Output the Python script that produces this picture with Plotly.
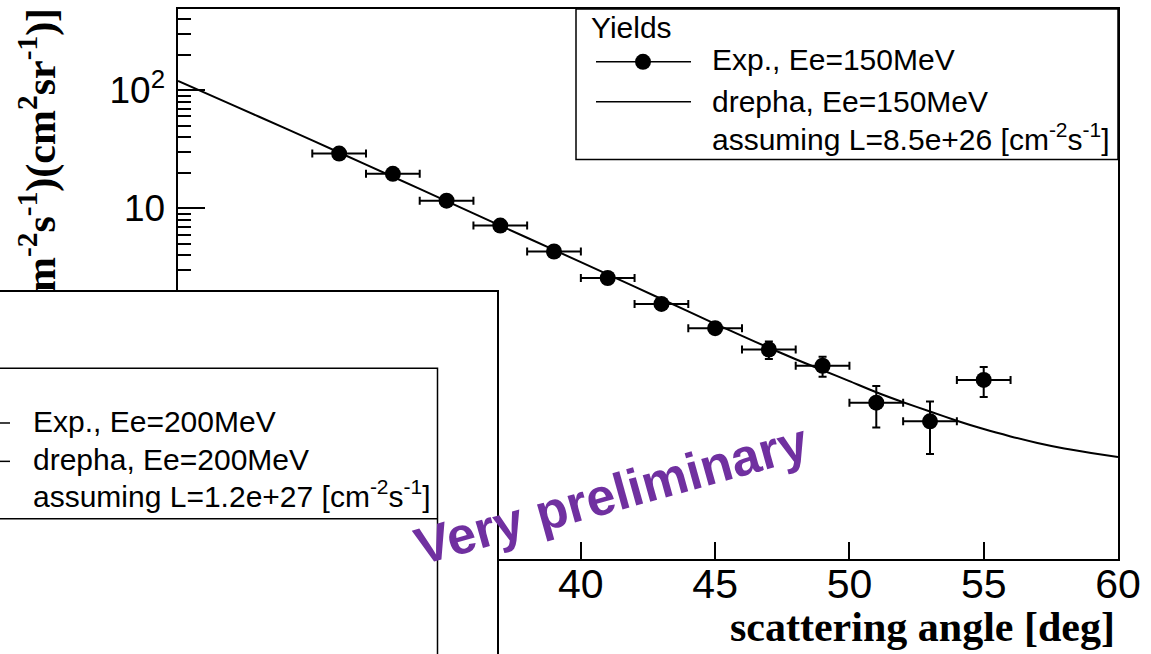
import plotly.graph_objects as go

# ---------------- data ----------------
angle_exp = [31, 33, 35, 37, 39, 41, 43, 45, 47, 49, 51, 53, 55]
angle_halfwidth = [1, 1, 1, 1, 1, 1, 1, 1, 1, 1, 1, 1, 1]
yield_exp = [29.1, 19.6, 11.6, 7.14, 4.31, 2.57, 1.55, 0.966, 0.637, 0.464, 0.226, 0.157, 0.352]
yield_err = [0.45, 0.35, 0.25, 0.2, 0.15, 0.12, 0.1, 0.1, 0.108, 0.09, 0.087, 0.074, 0.10]

angle_sim = [25, 27, 29, 31, 33, 35, 37, 39, 41, 43, 45, 46, 47, 48, 49, 50,
             51, 52, 53, 54, 55, 56, 57, 58, 59, 60]
yield_sim = [120, 75.5, 47.5, 29.7, 18.5, 11.5, 7.14, 4.44, 2.76, 1.706, 1.05, 0.831,
             0.659, 0.527, 0.425, 0.344, 0.277, 0.228, 0.190, 0.159, 0.135, 0.117,
             0.103, 0.0925, 0.0848, 0.0784]

legend_main_title = "Yields"
legend_main_items = ["Exp., Ee=150MeV", "drepha, Ee=150MeV",
                     "assuming L=8.5e+26 [cm<sup>-2</sup>s<sup>-1</sup>]"]
legend_second_items = ["Exp., Ee=200MeV", "drepha, Ee=200MeV",
                       "assuming L=1.2e+27 [cm<sup>-2</sup>s<sup>-1</sup>]"]
x_title = "scattering angle [deg]"
y_title_visible = "m<sup>-2</sup>s<sup>-1</sup>)(cm<sup>2</sup>sr<sup>-1</sup>)]"
watermark = "Very preliminary"
# tick labels that sit under the overlapping panel (hidden in the reference)
x_hidden_labels = {"25": "", "30": "", "35": ""}
y_hidden_labels = {"1": "", "10<sup>\u22121</sup>": "", "10<sup>\u22122</sup>": ""}

# ---------------- geometry helpers ----------------
W, H = 1151, 654
L, R, T, B = 178, 33, 7, 95
PW, PH = W - L - R, H - T - B


def px(x):
    return (x - L) / PW


def py(y):
    return (H - B - y) / PH


SANS = "Liberation Sans, Arial, sans-serif"
SERIF = "Liberation Serif, Times New Roman, serif"

fig = go.Figure()

fig.add_trace(go.Scatter(
    x=angle_sim, y=yield_sim, mode="lines",
    line=dict(color="black", width=2, shape="spline", smoothing=0.6),
    showlegend=False, hoverinfo="skip"))

fig.add_trace(go.Scatter(
    x=angle_exp, y=yield_exp, mode="markers",
    marker=dict(color="black", size=16),
    error_x=dict(type="data", array=angle_halfwidth, color="black", thickness=2, width=4),
    error_y=dict(type="data", array=yield_err, color="black", thickness=2, width=4),
    showlegend=False))

shapes = []
# main legend box
shapes.append(dict(type="rect", xref="paper", yref="paper", layer="above",
                   x0=px(576), x1=px(1118), y0=py(158), y1=py(7),
                   fillcolor="white", line=dict(color="black", width=1.5)))
shapes.append(dict(type="line", xref="paper", yref="paper", layer="above",
                   x0=px(596), x1=px(691), y0=py(60), y1=py(60),
                   line=dict(color="black", width=1.5)))
shapes.append(dict(type="circle", xref="paper", yref="paper", layer="above",
                   x0=px(635), x1=px(651), y0=py(68), y1=py(52),
                   fillcolor="black", line=dict(color="black", width=0)))
shapes.append(dict(type="line", xref="paper", yref="paper", layer="above",
                   x0=px(596), x1=px(691), y0=py(100), y1=py(100),
                   line=dict(color="black", width=1.5)))
# overlapping second panel (lower left)
shapes.append(dict(type="rect", xref="paper", yref="paper", layer="above",
                   x0=px(-5), x1=px(498), y0=py(665), y1=py(290),
                   fillcolor="white", line=dict(color="black", width=2)))
shapes.append(dict(type="rect", xref="paper", yref="paper", layer="above",
                   x0=px(-5), x1=px(437.5), y0=py(665), y1=py(367.5),
                   fillcolor="white", line=dict(color="black", width=1.5)))
shapes.append(dict(type="line", xref="paper", yref="paper", layer="above",
                   x0=px(-5), x1=px(437.5), y0=py(518.5), y1=py(518.5),
                   line=dict(color="black", width=1.5)))
for yy in (422.5, 461):
    shapes.append(dict(type="line", xref="paper", yref="paper", layer="above",
                       x0=px(-5), x1=px(10), y0=py(yy), y1=py(yy),
                       line=dict(color="black", width=1.5)))

ann = []
# y title (visible part)
ann.append(dict(xref="paper", yref="paper", x=px(38), y=py(148.5), text=y_title_visible,
                textangle=-90, showarrow=False, xanchor="center", yanchor="middle",
                font=dict(family=SERIF, size=42, color="black", weight="bold")))
# x title
ann.append(dict(xref="paper", yref="paper", x=px(1117), y=py(627), text=x_title,
                showarrow=False, xanchor="right", yanchor="middle",
                font=dict(family=SERIF, size=42, color="black", weight="bold")))
# main legend text
ann.append(dict(xref="paper", yref="paper", x=px(589), y=py(26), text=legend_main_title,
                showarrow=False, xanchor="left", yanchor="middle",
                font=dict(family=SANS, size=30, color="black")))
for t, yy in zip(legend_main_items, (58, 99.5, 135)):
    ann.append(dict(xref="paper", yref="paper", x=px(710), y=py(yy), text=t,
                    showarrow=False, xanchor="left", yanchor="middle",
                    font=dict(family=SANS, size=30, color="black")))
# second panel legend text
for t, yy in zip(legend_second_items, (421, 459, 494)):
    ann.append(dict(xref="paper", yref="paper", x=px(31), y=py(yy), text=t,
                    showarrow=False, xanchor="left", yanchor="middle",
                    font=dict(family=SANS, size=30, color="black")))
# watermark
ann.append(dict(xref="paper", yref="paper", x=px(611), y=py(494), text=watermark,
                textangle=-15.5, showarrow=False, xanchor="center", yanchor="middle",
                font=dict(family=SANS, size=52, color="#7030A0", weight="bold")))

fig.update_layout(
    width=W, height=H,
    margin=dict(l=L, r=R, t=T, b=B, pad=0),
    paper_bgcolor="white", plot_bgcolor="white",
    showlegend=False,
    xaxis=dict(range=[25, 60], tick0=0, dtick=5, showgrid=False, zeroline=False,
               showline=True, mirror=True, linecolor="black", linewidth=2,
               ticks="inside", ticklen=17, tickwidth=1.5, tickcolor="black",
               ticklabelstandoff=-12, labelalias=x_hidden_labels,
               tickfont=dict(family=SANS, size=41, color="black")),
    yaxis=dict(type="log", range=[-1.97, 2.688], tick0=0, dtick=1,
               exponentformat="power", showgrid=False, zeroline=False,
               showline=True, mirror=True, linecolor="black", linewidth=2,
               ticks="inside", ticklen=27, tickwidth=1.5, tickcolor="black",
               ticklabelstandoff=5, labelalias=y_hidden_labels,
               minor=dict(ticks="inside", ticklen=13, tickwidth=1.5, tickcolor="black",
                          dtick="D1", showgrid=False),
               tickfont=dict(family=SANS, size=29.6, color="black")),
    shapes=shapes,
    annotations=ann,
)

fig.write_html("out.html")
